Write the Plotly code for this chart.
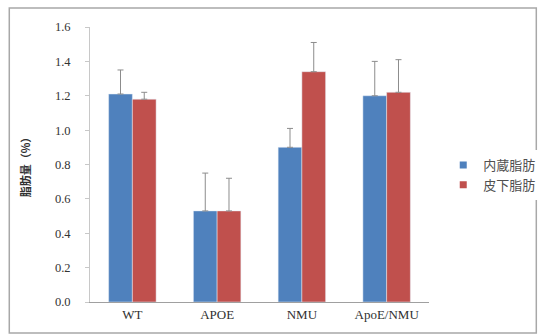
import plotly.graph_objects as go

categories = ["WT", "APOE", "NMU", "ApoE/NMU"]
visceral = [1.21, 0.53, 0.90, 1.20]
visceral_err = [0.14, 0.22, 0.11, 0.20]
subcut = [1.18, 0.53, 1.34, 1.22]
subcut_err = [0.04, 0.19, 0.17, 0.19]
series_names = ["内蔵脂肪", "皮下脂肪"]
colors = ["#4F81BD", "#C0504D"]
yticks = [0.0, 0.2, 0.4, 0.6, 0.8, 1.0, 1.2, 1.4, 1.6]

W, H = 553, 336
ml, mr, mt, mb = 90, 106, 27, 34
pw, ph = W - ml - mr, H - mt - mb

def px_x(x):
    return (x - ml) / pw

def px_y(y):
    return (H - mb - y) / ph

err_style = dict(type="data", symmetric=False, arrayminus=[0]*4, color="#8c8c8c", thickness=1, width=3)

fig = go.Figure()
fig.add_trace(go.Bar(x=categories, y=visceral, name=series_names[0], marker_color=colors[0],
                     showlegend=False, error_y=dict(array=visceral_err, **err_style)))
fig.add_trace(go.Bar(x=categories, y=subcut, name=series_names[1], marker_color=colors[1],
                     showlegend=False, error_y=dict(array=subcut_err, **err_style)))
# legend entries with small square markers
for name, c in zip(series_names, colors):
    fig.add_trace(go.Scatter(x=[None], y=[None], mode="markers", name=name,
                             marker=dict(symbol="square", size=7, color=c)))

fig.update_layout(
    width=W, height=H,
    margin=dict(l=ml, r=mr, t=mt, b=mb),
    paper_bgcolor="white", plot_bgcolor="white",
    barmode="group", bargap=0.44, bargroupgap=0,
    font=dict(family="Liberation Serif", size=12, color="#404040"),
    legend=dict(x=px_x(462), y=px_y(150), xanchor="left", yanchor="top",
                font=dict(family="Noto Sans CJK JP", size=13, color="#505050"),
                itemwidth=30, tracegroupgap=6),
    xaxis=dict(showline=True, linecolor="#a0a0a0", ticks="", tickfont=dict(size=13, color="#303030"),
               showgrid=False),
    yaxis=dict(range=[0, 1.6], tickvals=yticks, tickformat=".1f", showgrid=False,
               showline=True, linecolor="#c8c8c8", ticks="outside", ticklen=4, tickcolor="#c8c8c8",
               ticklabelstandoff=12,
               tickfont=dict(size=12.5, color="#333333"),
               title=dict(text="<b>脂肪量（%）</b>", font=dict(family="Noto Sans CJK JP", size=11, color="#303030"), standoff=22)),
    shapes=[dict(type="rect", xref="paper", yref="paper",
                 x0=px_x(5), x1=px_x(560), y0=px_y(333), y1=px_y(8),
                 line=dict(color="#a8a8a8", width=1.5), layer="below")],
)

fig.write_html("out.html")
